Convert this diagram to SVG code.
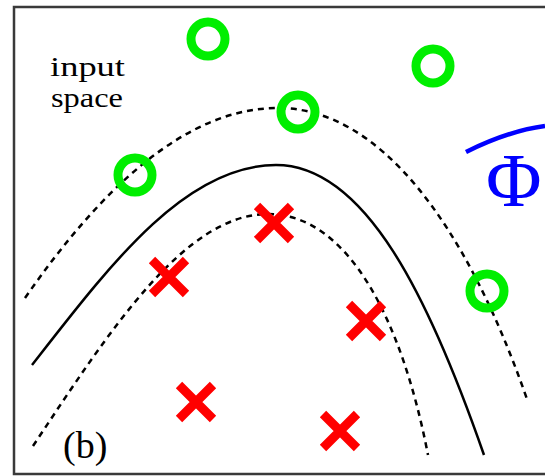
<svg xmlns="http://www.w3.org/2000/svg" width="545" height="476" viewBox="0 0 545 476">
<style>
.frame{fill:none;stroke:#3a3a3a;stroke-width:2.5}
.sep{fill:none;stroke:#000;stroke-width:2.5}
.margin{fill:none;stroke:#000;stroke-width:2.5;stroke-dasharray:6 5}
.pos{fill:none;stroke:#00ee00;stroke-width:9}
.neg{stroke:#ff0000;stroke-width:9}
.lbl{font-family:"Liberation Serif","DejaVu Serif","Times New Roman",Times,serif;fill:#000}
</style>
<rect width="545" height="476" fill="#fff"/>
<path class="frame" d="M545,7 H14 V474 H545"/>
<g id="curves">
<path class="margin" d="M25,298 C100,190 185,108 278,108 C378,108 465,220 528,402"/>
<path class="sep" d="M32,365 C110,265 185,165 276,165 C366,165 430,300 484,455"/>
<path class="margin" d="M33,446 C110,330 185,214 268,214 C348,214 402,320 428,455"/>
</g>
<g id="positives">
<circle class="pos" cx="208" cy="39" r="17"/>
<circle class="pos" cx="433" cy="66" r="17"/>
<circle class="pos" cx="298" cy="112" r="17"/>
<circle class="pos" cx="135" cy="175" r="17"/>
<circle class="pos" cx="487" cy="291" r="17"/>
</g>
<g id="negatives">
<path class="neg" d="M257,206 L291,240 M291,206 L257,240"/>
<path class="neg" d="M152,260 L186,294 M186,260 L152,294"/>
<path class="neg" d="M349,304 L383,338 M383,304 L349,338"/>
<path class="neg" d="M179,385 L213,419 M213,385 L179,419"/>
<path class="neg" d="M323,414 L357,448 M357,414 L323,448"/>
</g>
<g id="label-input">
<text class="lbl" x="50" y="76" font-size="28" textLength="75" lengthAdjust="spacingAndGlyphs">input</text>
<text class="lbl" x="51" y="107" font-size="28" textLength="72" lengthAdjust="spacingAndGlyphs">space</text>
</g>
<g id="label-b">
<text class="lbl" x="63" y="458" font-size="38">(b)</text>
</g>
<g id="phi">
<path d="M466,152 C490,140 515,130 545,126" fill="none" stroke="#0000ff" stroke-width="4.5"/>
<text class="lbl" x="486" y="206" font-size="76" style="fill:#0000ff">Φ</text>
</g>
</svg>
